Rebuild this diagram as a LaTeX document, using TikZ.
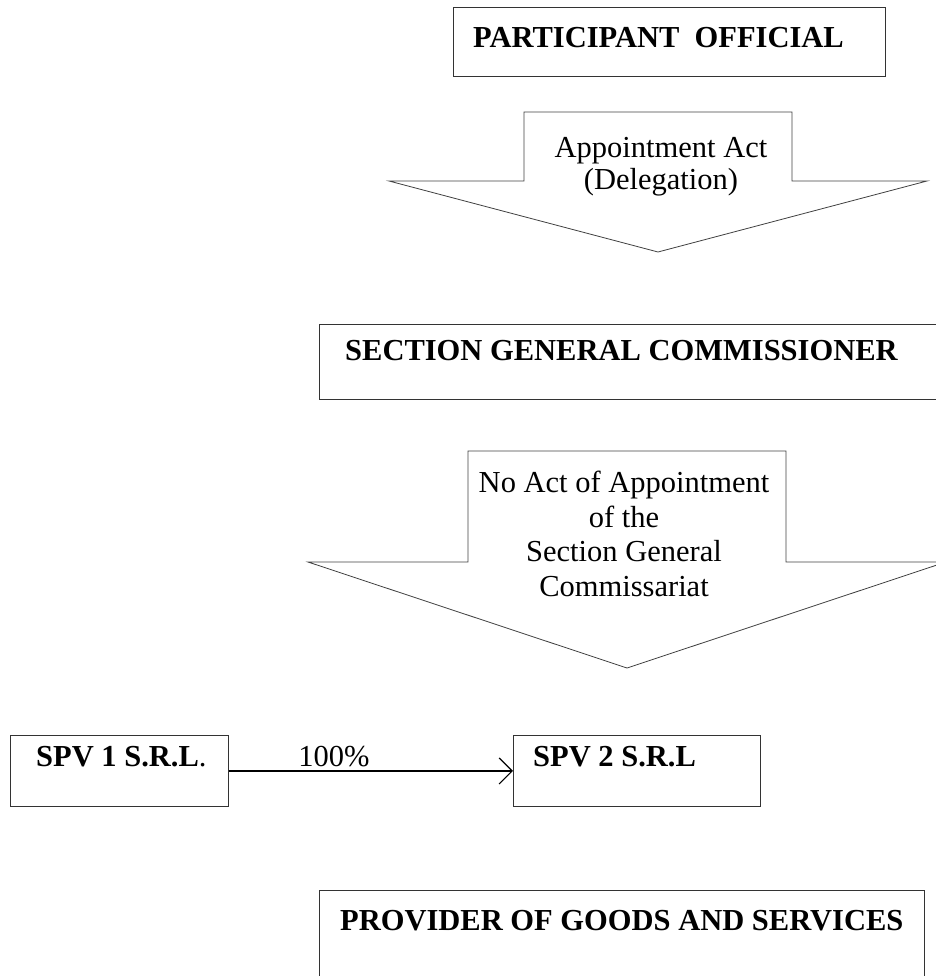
\documentclass[tikz,border=0pt]{standalone}
\usepackage{fontspec}
\setmainfont{Liberation Serif}
\usetikzlibrary{arrows.meta}
\begin{document}
\begin{tikzpicture}[x=1pt,y=-1pt,
  box/.style={draw=black!80,line width=0.9pt,inner sep=0pt,anchor=north west},
  blockarrow/.style={draw=black!75,line width=0.8pt,line join=miter},
  boxtext/.style={font=\fontsize{30.5}{35}\selectfont\bfseries,anchor=base west,inner sep=0pt},
  plaintext/.style={font=\fontsize{30.5}{35}\selectfont,anchor=base,inner sep=0pt},
  link/.style={draw=black,line width=1.6pt,-{Straight Barb[length=13pt,width=26pt,line width=1.2pt]}},
]
\useasboundingbox (0,0) rectangle (935,976);

% boxes
\node[box,minimum width=432pt,minimum height=69pt] (participant) at (453,7) {};
\node[box,minimum width=640pt,minimum height=75pt] (section) at (319,324) {};
\node[box,minimum width=218pt,minimum height=71pt] (spvone) at (10,735) {};
\node[box,minimum width=247pt,minimum height=71pt] (spvtwo) at (513,735) {};
\node[box,minimum width=605pt,minimum height=120pt] (provider) at (319,890) {};

% box texts
\node[boxtext] (participanttext) at (473,48) {PARTICIPANT\ \ OFFICIAL};
\node[boxtext] (sectiontext) at (345,360) {SECTION GENERAL COMMISSIONER};
\node[boxtext,font=\fontsize{30.5}{35}\selectfont] (spvonetext) at (36,766) {\textbf{SPV 1 S.R.L}.};
\node[boxtext] (spvtwotext) at (533,766) {SPV 2 S.R.L};
\node[boxtext] (providertext) at (340,930) {PROVIDER OF GOODS AND SERVICES};

% block arrow 1
\coordinate (aonetip) at (658,252);
\draw[blockarrow] (524,112) -- (792,112) -- (792,181) -- (927,181) -- (aonetip)
  -- (389,181) -- (524,181) -- cycle;
\node[plaintext] (aonelineone) at (661,158) {Appointment Act};
\node[plaintext] (aonelinetwo) at (661,190) {(Delegation)};

% block arrow 2
\coordinate (atwotip) at (627,668);
\draw[blockarrow] (468,451) -- (786,451) -- (786,562) -- (946,562) -- (atwotip)
  -- (308,562) -- (468,562) -- cycle;
\node[plaintext] (atwolineone) at (624,492) {No Act of Appointment};
\node[plaintext] (atwolinetwo) at (624,527) {of the};
\node[plaintext] (atwolinethree) at (624,561) {Section General};
\node[plaintext] (atwolinefour) at (624,596) {Commissariat};

% ownership link
\draw[link] (spvone.east) -- (spvtwo.west);
\node[plaintext] (pct) at (334,766) {100\%};
\end{tikzpicture}
\end{document}
